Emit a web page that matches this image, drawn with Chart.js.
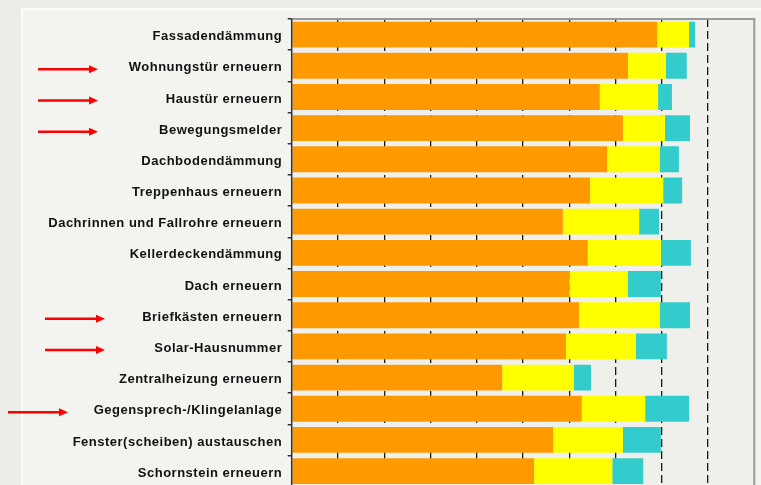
<!DOCTYPE html>
<html lang="de">
<head>
    <meta charset="UTF-8">
    <title>Maßnahmen</title>
    <style>
        html, body { margin: 0; padding: 0; overflow: hidden; background: #ecece8; }
        #chart { width: 761px; height: 500px; }
    </style>
</head>
<body>
    <div id="chart">
        <canvas id="myChart" width="761" height="500"></canvas>
    </div>
    <script src="https://cdn.jsdelivr.net/npm/chart.js"></script>
    <script>
        // categories, top to bottom
        let categories = [
            "Fassadendämmung", "Wohnungstür erneuern", "Haustür erneuern", "Bewegungsmelder",
            "Dachbodendämmung", "Treppenhaus erneuern", "Dachrinnen und Fallrohre erneuern",
            "Kellerdeckendämmung", "Dach erneuern", "Briefkästen erneuern", "Solar-Hausnummer",
            "Zentralheizung erneuern", "Gegensprech-/Klingelanlage", "Fenster(scheiben) austauschen",
            "Schornstein erneuern"
        ]
        // percentages
        let orangeValues = [79.0, 72.7, 66.6, 71.6, 68.2, 64.5, 58.6, 64.0, 60.0, 62.1, 59.3, 45.5, 62.7, 56.5, 52.4]
        let yellowValues = [6.9, 8.2, 12.6, 9.1, 11.4, 15.8, 16.5, 15.8, 12.7, 17.5, 15.1, 15.5, 13.7, 15.1, 16.9]
        let cyanValues = [1.3, 4.5, 3.0, 5.4, 4.1, 4.1, 4.3, 6.5, 7.1, 6.5, 6.7, 3.7, 9.5, 8.2, 6.7]
        let xTicks = [0, 10, 20, 30, 40, 50, 60, 70, 80, 90, 100]
        // red arrows marking some rows (category, start x)
        let arrows = [
            ["Wohnungstür erneuern", 38], ["Haustür erneuern", 38], ["Bewegungsmelder", 38],
            ["Briefkästen erneuern", 45], ["Solar-Hausnummer", 45], ["Gegensprech-/Klingelanlage", 8]
        ]

        const backdrop = {
            id: "backdrop",
            beforeDraw(chart) {
                const c = chart.ctx, a = chart.chartArea
                c.save()
                c.fillStyle = "#ecece8"
                c.fillRect(0, 0, chart.width, chart.height)
                c.fillStyle = "#f3f3ef"
                c.fillRect(22, 9, chart.width, chart.height)
                c.strokeStyle = "#ffffff"
                c.lineWidth = 1.5
                c.strokeRect(22, 9, chart.width + 10, chart.height + 10)
                c.fillStyle = "#efefeb"
                c.fillRect(a.left, a.top, a.right - a.left, a.bottom - a.top)
                c.restore()
                // old-style wide label text
                c.letterSpacing = "0.5px"
            },
            beforeDatasetsDraw(chart) {
                chart.ctx.letterSpacing = "0px"
            },
            afterDraw(chart) {
                const c = chart.ctx, a = chart.chartArea
                c.save()
                // plot frame
                c.strokeStyle = "#9a9a9a"
                c.lineWidth = 2
                c.beginPath()
                c.moveTo(a.left, a.top)
                c.lineTo(a.right, a.top)
                c.lineTo(a.right, a.bottom + 5)
                c.stroke()
                c.strokeStyle = "#333333"
                c.lineWidth = 1.5
                c.beginPath()
                c.moveTo(a.left, a.top)
                c.lineTo(a.left, a.bottom + 5)
                c.stroke()
                // arrows
                const y = chart.scales.y
                c.strokeStyle = "#ff0000"
                c.fillStyle = "#ff0000"
                c.lineWidth = 2.5
                arrows.forEach(([name, x0]) => {
                    const py = y.getPixelForValue(categories.indexOf(name)) + 3.5
                    const x1 = x0 + 60
                    c.beginPath()
                    c.moveTo(x0, py)
                    c.lineTo(x1 - 8, py)
                    c.stroke()
                    c.beginPath()
                    c.moveTo(x1, py)
                    c.lineTo(x1 - 9, py - 4)
                    c.lineTo(x1 - 9, py + 4)
                    c.closePath()
                    c.fill()
                })
                c.restore()
            }
        }

        let ctx = document.getElementById("myChart")
        let chart = new Chart(ctx, {
            type: "bar",
            data: {
                labels: categories,
                datasets: [
                    { label: "Serie 1", data: orangeValues, backgroundColor: "#ff9900" },
                    { label: "Serie 2", data: yellowValues, backgroundColor: "#ffff00" },
                    { label: "Serie 3", data: cyanValues, backgroundColor: "#33cccc" }
                ]
            },
            options: {
                indexAxis: "y",
                responsive: false,
                animation: false,
                devicePixelRatio: 1,
                layout: { padding: { left: 0, right: 6.7, top: 19, bottom: 10.3 } },
                datasets: { bar: { categoryPercentage: 1, barPercentage: 0.83 } },
                plugins: { legend: { display: false }, tooltip: { enabled: false } },
                scales: {
                    x: {
                        stacked: true,
                        min: 0,
                        max: 100,
                        afterBuildTicks: (s) => { s.ticks = xTicks.map(v => ({ value: v })) },
                        afterFit: (s) => { s.height = 0 },
                        ticks: { display: false },
                        grid: {
                            drawTicks: false,
                            color: (c) => (c.tick && (c.tick.value === 0 || c.tick.value === 100)) ? "rgba(0,0,0,0)" : "#1a1a1a",
                            lineWidth: 1.3
                        },
                        border: { display: false, dash: [8, 4] }
                    },
                    y: {
                        stacked: true,
                        afterFit: (s) => { s.width = 291.7 },
                        border: { display: false },
                        grid: { drawOnChartArea: false, tickLength: 4, color: "#333333", lineWidth: 1.5 },
                        ticks: {
                            color: "#111111",
                            padding: 5.5,
                            labelOffset: 2,
                            font: { family: "'Liberation Sans', Arial, sans-serif", size: 13, weight: "bold" }
                        }
                    }
                }
            },
            plugins: [backdrop]
        })
    </script>
</body>
</html>
